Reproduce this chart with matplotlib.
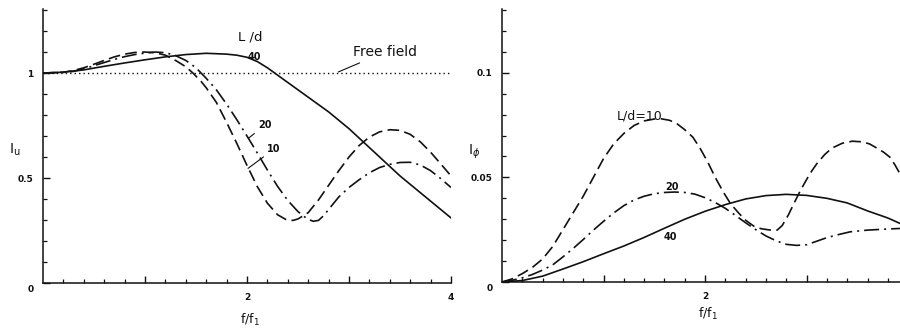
import matplotlib
matplotlib.use("Agg")
import matplotlib.pyplot as plt
from matplotlib.transforms import ScaledTranslation
import numpy as np

# ---- Left panel: I_u versus f/f1 -------------------------------------------
u_x_40 = [0, 0.2, 0.4, 0.6, 0.8, 1.0, 1.2, 1.4, 1.6, 1.8, 1.9, 2.0, 2.1, 2.2,
          2.3, 2.4, 2.5, 2.6, 2.7, 2.8, 2.9, 3.0, 3.1, 3.2, 3.3, 3.4, 3.5,
          3.6, 3.7, 3.8, 3.9, 4.0]
u_y_40 = [1.0, 1.004, 1.015, 1.032, 1.048, 1.063, 1.077, 1.088, 1.094, 1.09,
          1.085, 1.075, 1.055, 1.025, 0.99, 0.955, 0.92, 0.885, 0.85, 0.815,
          0.775, 0.735, 0.69, 0.645, 0.60, 0.555, 0.51, 0.47, 0.43, 0.39,
          0.35, 0.31]

u_x_10 = [0, 0.2, 0.3, 0.4, 0.5, 0.6, 0.7, 0.8, 0.9, 1.0, 1.1, 1.2, 1.3, 1.4,
          1.47, 1.55, 1.6, 1.7, 1.8, 1.9, 2.0, 2.1, 2.2, 2.3, 2.39, 2.45, 2.5,
          2.6, 2.7, 2.8, 2.9, 3.0, 3.1, 3.2, 3.3, 3.4, 3.5, 3.6, 3.7, 3.8,
          3.9, 4.0]
u_y_10 = [1.0, 1.004, 1.012, 1.025, 1.042, 1.06, 1.077, 1.09, 1.098, 1.10,
          1.097, 1.085, 1.06, 1.03, 1.0, 0.96, 0.93, 0.86, 0.765, 0.665, 0.56,
          0.46, 0.38, 0.325, 0.30, 0.298, 0.305, 0.335, 0.395, 0.465, 0.535,
          0.60, 0.655, 0.695, 0.72, 0.73, 0.727, 0.708, 0.672, 0.623, 0.567,
          0.51]

u_x_20 = [0, 0.2, 0.3, 0.4, 0.5, 0.6, 0.7, 0.8, 0.9, 1.0, 1.1, 1.2, 1.3, 1.4,
          1.5, 1.55, 1.6, 1.7, 1.8, 1.9, 2.0, 2.1, 2.2, 2.3, 2.4, 2.5, 2.55,
          2.6, 2.65, 2.7, 2.75, 2.8, 2.9, 3.0, 3.1, 3.2, 3.3, 3.4, 3.5, 3.6,
          3.7, 3.8, 3.9, 4.0]
u_y_20 = [1.0, 1.003, 1.008, 1.02, 1.035, 1.05, 1.065, 1.078, 1.088, 1.095,
          1.10, 1.097, 1.083, 1.06, 1.025, 1.0, 0.975, 0.92, 0.852, 0.778,
          0.70, 0.62, 0.538, 0.46, 0.393, 0.34, 0.32, 0.303, 0.294, 0.298,
          0.32, 0.35, 0.41, 0.455, 0.492, 0.525, 0.55, 0.565, 0.574, 0.575,
          0.562, 0.535, 0.497, 0.455]

free_field_x = [0, 4.0]
free_field_y = [1.0, 1.0]

# ---- Right panel: I_phi versus f/f1 ----------------------------------------
p_x_10 = [0, 0.1, 0.2, 0.3, 0.4, 0.5, 0.6, 0.7, 0.8, 0.9, 1.0, 1.1, 1.2, 1.3,
          1.4, 1.5, 1.57, 1.65, 1.72, 1.8, 1.88, 1.95, 2.03, 2.1, 2.18, 2.25,
          2.33, 2.4, 2.48, 2.55, 2.63, 2.71, 2.76, 2.82, 2.88, 2.94, 3.0,
          3.05, 3.1, 3.18, 3.25, 3.35, 3.45, 3.55, 3.62, 3.7, 3.76, 3.82,
          3.87, 3.92]
p_y_10 = [0, 0.0015, 0.004, 0.007, 0.011, 0.017, 0.025, 0.033, 0.041, 0.050,
          0.059, 0.066, 0.071, 0.0748, 0.077, 0.0779, 0.078, 0.0773, 0.0758,
          0.0728, 0.0692, 0.064, 0.057, 0.050, 0.043, 0.0375, 0.033, 0.0295,
          0.0267, 0.0255, 0.0249, 0.0248, 0.027, 0.032, 0.038, 0.0438, 0.049,
          0.053, 0.0565, 0.061, 0.064, 0.0663, 0.0673, 0.067, 0.066, 0.0638,
          0.062, 0.0597, 0.056, 0.0517]

p_x_20 = [0, 0.1, 0.2, 0.3, 0.4, 0.5, 0.6, 0.7, 0.8, 0.9, 1.0, 1.1, 1.2, 1.3,
          1.4, 1.5, 1.6, 1.7, 1.8, 1.9, 2.0, 2.1, 2.2, 2.3, 2.4, 2.5, 2.6,
          2.7, 2.8, 2.9, 3.0, 3.1, 3.2, 3.3, 3.43, 3.6, 3.75, 3.92]
p_y_20 = [0, 0.0008, 0.002, 0.0036, 0.0057, 0.0082, 0.012, 0.016, 0.0203,
          0.0248, 0.029, 0.033, 0.0365, 0.0392, 0.041, 0.0422, 0.0428, 0.043,
          0.0428, 0.042, 0.0403, 0.038, 0.0352, 0.0318, 0.0283, 0.025, 0.022,
          0.0197, 0.018, 0.0175, 0.0178, 0.0195, 0.0212, 0.0225, 0.024,
          0.0248, 0.0252, 0.0256]

p_x_40 = [0, 0.2, 0.4, 0.6, 0.8, 1.0, 1.2, 1.4, 1.6, 1.8, 2.0, 2.2, 2.4, 2.6,
          2.8, 3.0, 3.2, 3.4, 3.6, 3.8, 3.92]
p_y_40 = [0, 0.0007, 0.0028, 0.0062, 0.0097, 0.0135, 0.0172, 0.0213, 0.0257,
          0.030, 0.0338, 0.037, 0.0397, 0.0413, 0.0419, 0.0414, 0.040, 0.0378,
          0.034, 0.0306, 0.028]

u_yticks = [0, 0.5, 1]
u_yticklabels = ["0", "0.5", "1"]
p_yticks = [0, 0.05, 0.1]
p_yticklabels = ["0", "0.05", "0.1"]
u_xticks = [1, 2, 3, 4]
u_xticklabels = ["", "2", "", "4"]
p_xticks = [1, 2, 3]
p_xticklabels = ["", "2", ""]

INK = "#111111"
DASH = (0, (7, 3.2))
DASHDOT = (0, (9, 3, 1.2, 3))
DOT = (0, (1, 2.2))

plt.rcParams["font.family"] = ["DejaVu Sans"]

fig = plt.figure(figsize=(9.0, 3.35), dpi=100)
ax1 = fig.add_axes([43 / 900, 52 / 335, 408 / 900, 274 / 335])
ax2 = fig.add_axes([502 / 900, 53 / 335, 398 / 900, 273 / 335])


def style_axes(ax, xmax, ymax, ystep, xticks, xticklabels, yticks,
               yticklabels):
    for side in ("top", "right"):
        ax.spines[side].set_visible(False)
    for side in ("left", "bottom"):
        ax.spines[side].set_linewidth(1.1)
        ax.spines[side].set_color(INK)
    ax.set_xlim(0, xmax)
    ax.set_ylim(0, ymax)
    ax.set_xticks(xticks)
    ax.set_xticklabels(xticklabels)
    ax.set_xticks(np.arange(0.2, xmax + 1e-6, 0.2), minor=True)
    ax.set_yticks(yticks)
    ax.set_yticklabels(yticklabels)
    ax.set_yticks(np.arange(ystep, ymax, ystep), minor=True)
    ax.tick_params(which="major", direction="in", length=5, width=1.0,
                   color=INK, labelsize=6.5, labelcolor=INK, pad=7)
    ax.tick_params(which="minor", direction="in", length=3, width=0.9,
                   color=INK)
    for lbl in ax.get_xticklabels() + ax.get_yticklabels():
        lbl.set_fontweight("bold")
    # the origin label sits a little below the axis
    lbl0 = ax.get_yticklabels()[0]
    lbl0.set_transform(lbl0.get_transform()
                       + ScaledTranslation(0, -4 / 72, fig.dpi_scale_trans))


style_axes(ax1, 4.0, 1.305, 0.1, u_xticks, u_xticklabels, u_yticks,
           u_yticklabels)
style_axes(ax2, 3.92, 0.1305, 0.01, p_xticks, p_xticklabels, p_yticks,
           p_yticklabels)

# left panel curves
ax1.plot(free_field_x, free_field_y, color=INK, lw=1.0, ls=DOT)
ax1.plot(u_x_40, u_y_40, color=INK, lw=1.2)
ax1.plot(u_x_10, u_y_10, color=INK, lw=1.2, ls=DASH)
ax1.plot(u_x_20, u_y_20, color=INK, lw=1.2, ls=DASHDOT)

# right panel curves
ax2.plot(p_x_10, p_y_10, color=INK, lw=1.2, ls=DASH)
ax2.plot(p_x_20, p_y_20, color=INK, lw=1.2, ls=DASHDOT)
ax2.plot(p_x_40, p_y_40, color=INK, lw=1.2)

# annotations, left panel
ax1.text(2.03, 1.173, "L /d", fontsize=9.5, ha="center", va="center",
         color=INK)
ax1.text(2.07, 1.078, "40", fontsize=7, fontweight="bold", ha="center",
         va="center", color=INK)
ax1.annotate("Free field", xy=(2.895, 1.005), xytext=(3.04, 1.10),
             fontsize=10, ha="left", va="center", color=INK,
             arrowprops=dict(arrowstyle="-", lw=0.8, color=INK,
                             shrinkA=2, shrinkB=0))
ax1.annotate("20", xy=(2.013, 0.689), xytext=(2.11, 0.752), fontsize=7,
             fontweight="bold", ha="left", va="center", color=INK,
             arrowprops=dict(arrowstyle="-", lw=0.8, color=INK,
                             shrinkA=1, shrinkB=0))
ax1.annotate("10", xy=(2.01, 0.546), xytext=(2.2, 0.638), fontsize=7,
             fontweight="bold", ha="left", va="center", color=INK,
             arrowprops=dict(arrowstyle="-", lw=0.8, color=INK,
                             shrinkA=1, shrinkB=0))

# annotations, right panel
ax2.text(1.36, 0.0795, "L/d=10", fontsize=9, ha="center", va="center",
         color=INK)
ax2.text(1.67, 0.0454, "20", fontsize=7, fontweight="bold", ha="center",
         va="center", color=INK)
ax2.text(1.655, 0.0216, "40", fontsize=7, fontweight="bold", ha="center",
         va="center", color=INK)

# axis titles
fig.text(15 / 900, 1 - 150 / 335, r"$\mathrm{I}_{\mathrm{u}}$", fontsize=10,
         ha="center", va="center", color=INK)
fig.text(474 / 900, 1 - 152 / 335, r"$\mathrm{I}_{\phi}$", fontsize=10,
         ha="center", va="center", color=INK)
fig.text(250 / 900, 1 - 320 / 335, r"f/f$_1$", fontsize=9, ha="center",
         va="center", color=INK)
fig.text(708 / 900, 1 - 314 / 335, r"f/f$_1$", fontsize=9, ha="center",
         va="center", color=INK)

fig.savefig("out.png", dpi=100, facecolor="white")
